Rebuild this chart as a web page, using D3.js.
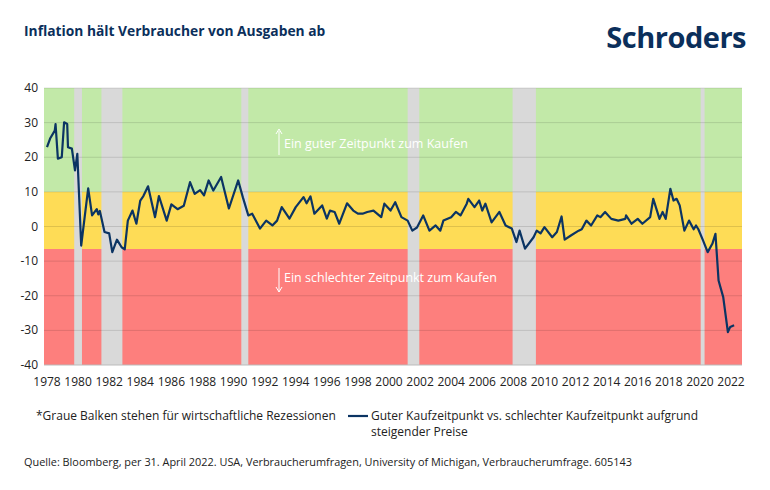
<!DOCTYPE html>
<html><head><meta charset="utf-8">
<script src="https://cdn.jsdelivr.net/npm/d3@7"></script>
<style>body{margin:0;background:#fff;font-family:"Open Sans","Noto Sans",sans-serif}</style>
</head><body><svg id="c" width="770" height="490"></svg>
<script>
const years=[1978,1978.2,1978.5,1978.55,1978.7,1978.95,1979.1,1979.3,1979.35,1979.6,1979.8,1979.95,1980.2,1980.45,1980.65,1980.9,1981.2,1981.3,1981.4,1981.7,1982.0,1982.2,1982.5,1982.8,1983.0,1983.2,1983.5,1983.75,1984.0,1984.2,1984.5,1984.95,1985.2,1985.7,1986.0,1986.4,1986.8,1987.2,1987.5,1987.85,1988.1,1988.4,1988.7,1989.2,1989.7,1990.3,1990.6,1990.95,1991.2,1991.7,1992.1,1992.5,1992.8,1993.1,1993.6,1994.0,1994.5,1994.7,1994.95,1995.2,1995.7,1996.0,1996.2,1996.5,1996.8,1997.3,1997.7,1998.0,1998.3,1998.6,1999.0,1999.5,1999.7,2000.1,2000.4,2000.8,2001.2,2001.5,2001.8,2002.2,2002.6,2003.0,2003.3,2003.5,2004.0,2004.3,2004.6,2005.0,2005.1,2005.5,2005.8,2006.0,2006.2,2006.6,2007.1,2007.5,2007.9,2008.2,2008.4,2008.75,2009.3,2009.5,2009.75,2010.0,2010.5,2010.8,2011.1,2011.3,2011.7,2012.2,2012.4,2012.7,2013.0,2013.4,2013.6,2013.9,2014.3,2014.75,2015.2,2015.25,2015.6,2016.0,2016.3,2016.8,2017.0,2017.4,2017.6,2017.8,2018.1,2018.3,2018.5,2018.7,2019.0,2019.3,2019.6,2019.75,2019.9,2020.2,2020.5,2020.8,2021.0,2021.2,2021.5,2021.8,2021.95,2022.2];
const values=[22.9,25.4,27.7,29.6,19.6,20,30.1,29.6,22.9,22.5,16.2,21,-5.5,3.7,11,3.2,5,3.5,4.5,-1.6,-2,-7.4,-3.8,-6,-6.6,1.7,4.6,0.8,7.5,8.8,11.6,2.7,8.8,1.7,6.4,5,6,12.8,9.4,10.5,9,13.3,10.4,14.3,5.2,13.3,8.4,3.2,3.7,-0.6,1.7,0.3,1.7,5.6,2.3,5.6,8.5,6.7,8.7,3.7,6.1,2.3,4.6,4.2,0.8,6.7,4.6,3.7,3.7,4.2,4.6,2.7,6.6,4.6,7,2.7,1.7,-1.2,-0.3,3.2,-1.2,0.3,-1.2,1.7,2.7,4.2,3.2,6.6,8,5.6,7.5,4.6,6.6,1.2,4.2,0.3,-0.6,-4.5,-1.2,-6.4,-3.1,-1.2,-2,-0.2,-3.1,-1.6,2.9,-3.8,-2.6,-1.2,-0.8,1.7,0.3,3.2,2.7,4.2,2.2,1.7,2.2,3.2,0.8,2.2,0.8,2.7,8,2.2,4.2,2.2,10.9,7.5,8,6.1,-1.2,1.7,-0.8,0.3,-0.8,-4,-7.4,-5,-2.1,-15.6,-20.4,-30.5,-29,-28.5];
const recessions=[[1979.75,1980.25],[1981.5,1982.85],[1990.5,1990.95],[2001.2,2001.95],[2007.95,2009.45],[2020.05,2020.3]];
const xTicks=d3.range(1978,2023,2);
const yTicks=d3.range(-40,41,10);
const bands=[[10,40,"#c2e9a8"],[-6.5,10,"#fedc56"],[-40,-6.5,"#fd7f7d"]];

const svg=d3.select("#c");
const x=d3.scaleLinear().domain([1978,2022]).range([47,731]);
const y=d3.scaleLinear().domain([-40,40]).range([365,88]);
const L=44,R=742;
svg.append("text").attr("x",24).attr("y",36).attr("fill","#0b2f5b").attr("font-weight",700).attr("font-size",13.8).text("Inflation hält Verbraucher von Ausgaben ab");
svg.append("text").attr("x",746).attr("y",48).attr("text-anchor","end").attr("fill","#0b2f5b").attr("font-weight",700).attr("font-size",29).attr("letter-spacing",-0.5).text("Schroders");
svg.selectAll(".b").data(bands).join("rect").attr("x",L).attr("width",R-L).attr("y",d=>y(d[1])).attr("height",d=>y(d[0])-y(d[1])).attr("fill",d=>d[2]);
svg.selectAll(".r").data(recessions).join("rect").attr("x",d=>x(d[0])).attr("width",d=>x(d[1])-x(d[0])).attr("y",y(40)).attr("height",y(-40)-y(40)).attr("fill","#d9d9d9");
svg.selectAll(".g").data(yTicks.filter(v=>v>-40)).join("line").attr("x1",L).attr("x2",R).attr("y1",d=>y(d)).attr("y2",d=>y(d)).attr("stroke","#000").attr("stroke-opacity",0.12);
svg.append("line").attr("x1",L).attr("x2",R).attr("y1",y(-40)).attr("y2",y(-40)).attr("stroke","#bbb");
svg.selectAll(".yl").data(yTicks).join("text").attr("x",38).attr("y",d=>y(d)+4).attr("text-anchor","end").attr("font-size",12).attr("fill","#222").text(d=>d);
svg.selectAll(".xl").data(xTicks).join("text").attr("x",d=>x(d)).attr("y",386).attr("text-anchor","middle").attr("font-size",12).attr("fill","#222").text(d=>d);
svg.append("path").datum(years.map((t,i)=>[t,values[i]])).attr("d",d3.line().x(d=>x(d[0])).y(d=>y(d[1]))).attr("fill","none").attr("stroke","#0b3463").attr("stroke-width",2.2).attr("stroke-linejoin","round");
// annotations
svg.append("line").attr("x1",279).attr("x2",279).attr("y1",131).attr("y2",155).attr("stroke","#fff");
svg.append("path").attr("d","M276,134L279,129L282,134").attr("fill","none").attr("stroke","#fff");
svg.append("text").attr("x",284).attr("y",148).attr("fill","#fff").attr("font-size",12.5).text("Ein guter Zeitpunkt zum Kaufen");
svg.append("line").attr("x1",279).attr("x2",279).attr("y1",268).attr("y2",292).attr("stroke","#fff");
svg.append("path").attr("d","M276,287L279,292L282,287").attr("fill","none").attr("stroke","#fff");
svg.append("text").attr("x",284).attr("y",282).attr("fill","#fff").attr("font-size",12.5).text("Ein schlechter Zeitpunkt zum Kaufen");
// legend
svg.append("text").attr("x",36).attr("y",420).attr("font-size",12).attr("fill","#222").text("*Graue Balken stehen für wirtschaftliche Rezessionen");
svg.append("line").attr("x1",348).attr("x2",368).attr("y1",416).attr("y2",416).attr("stroke","#0b3463").attr("stroke-width",2.2);
svg.append("text").attr("x",371).attr("y",420).attr("font-size",12).attr("fill","#222").text("Guter Kaufzeitpunkt vs. schlechter Kaufzeitpunkt aufgrund");
svg.append("text").attr("x",371).attr("y",436).attr("font-size",12).attr("fill","#222").text("steigender Preise");
svg.append("text").attr("x",24).attr("y",466).attr("font-size",10.9).attr("fill","#222").text("Quelle: Bloomberg, per 31. April 2022. USA, Verbraucherumfragen, University of Michigan, Verbraucherumfrage. 605143");
</script></body></html>
